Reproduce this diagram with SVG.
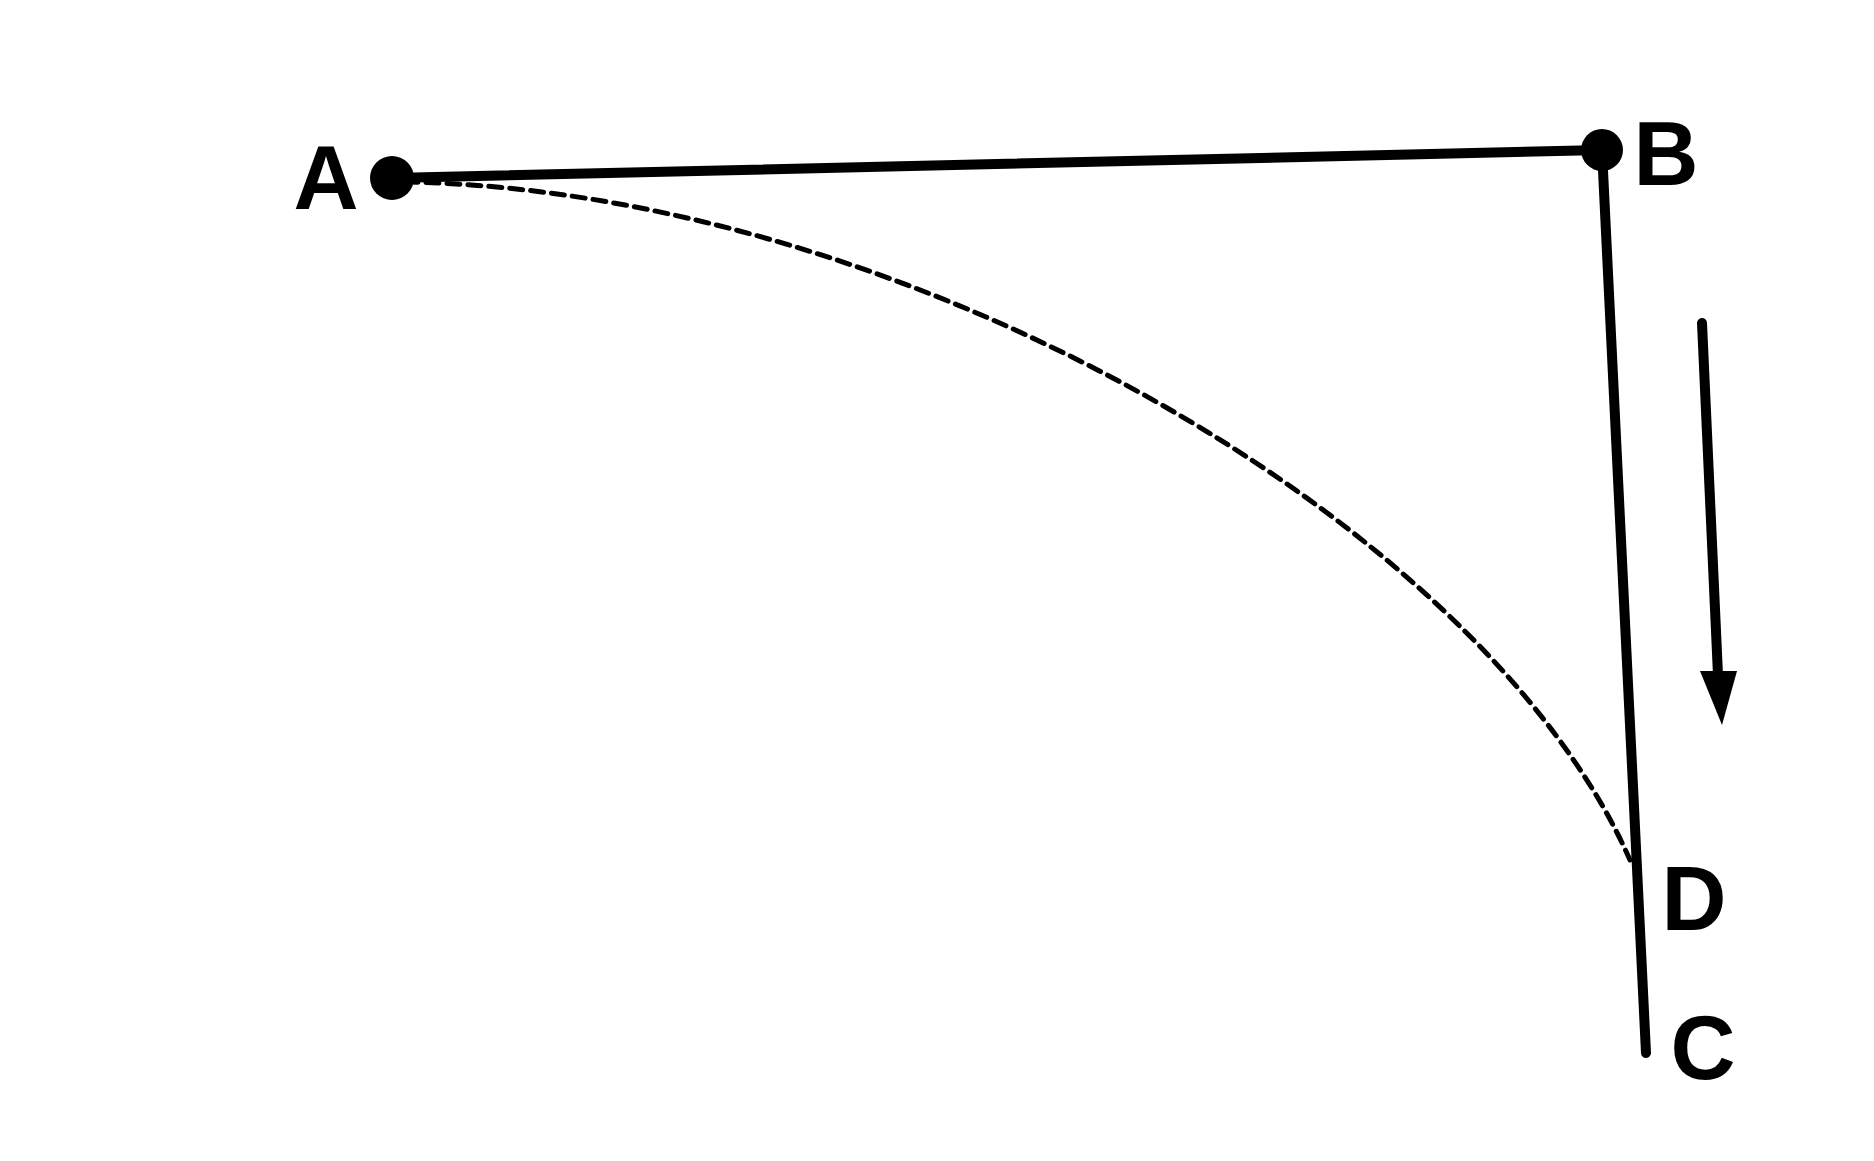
<svg xmlns="http://www.w3.org/2000/svg" width="1874" height="1161" viewBox="0 0 1874 1161">
<style>
.lbl{font-family:"Liberation Sans",Arial,sans-serif;font-weight:bold;font-size:90px;fill:#000;text-anchor:middle}
.solid{stroke:#000;stroke-width:10;stroke-linecap:round;fill:none}
.dash{stroke:#000;stroke-width:5;stroke-dasharray:13 8;fill:none;stroke-linecap:round}
</style>
<rect width="1874" height="1161" fill="#fff"/>
<g id="connectors">
<line class="solid" x1="392" y1="178" x2="1602" y2="150"/>
<line class="solid" x1="1602" y1="150" x2="1646" y2="1053"/>
<path class="dash" d="M405,182 C900,190 1480,520 1630,860"/>
<line class="solid" x1="1702" y1="323" x2="1718" y2="675"/>
<polygon points="1700,671 1737,671 1722,725" fill="#000"/>
</g>
<g id="A">
<circle cx="392" cy="178" r="22" fill="#000"/>
<text class="lbl" x="326" y="209">A</text>
</g>
<g id="B">
<circle cx="1602" cy="150" r="21" fill="#000"/>
<text class="lbl" x="1666" y="185">B</text>
</g>
<g id="D">
<text class="lbl" x="1694" y="930">D</text>
</g>
<g id="C">
<text class="lbl" x="1703" y="1079">C</text>
</g>
</svg>
